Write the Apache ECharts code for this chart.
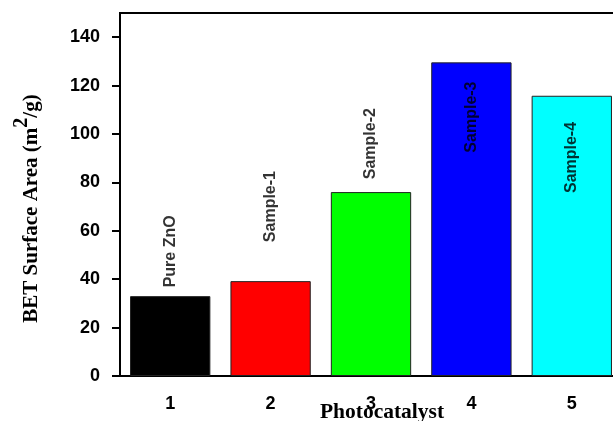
<!DOCTYPE html>
<html>
<head>
<meta charset="utf-8">
<script src="https://cdn.jsdelivr.net/npm/echarts@6/dist/echarts.min.js"></script>
<style>html,body{margin:0;padding:0;background:#fff;}#c{width:613px;height:421px;}</style>
</head>
<body>
<div id="c"></div>
<script>
const categories = ['1', '2', '3', '4', '5'];
const surfaceArea = [33, 39.2, 76, 129.6, 115.8];
const sampleNames = ['Pure ZnO', 'Sample-1', 'Sample-2', 'Sample-3', 'Sample-4'];
const labelCenters = [51.5, 70, 96, 107, 90.3];
const barColors = ['#000000', '#ff0000', '#00ff00', '#0000ff', '#00ffff'];
const yTicks = [0, 20, 40, 60, 80, 100, 120, 140];

const chart = echarts.init(document.getElementById('c'));
chart.setOption({
  animation: false,
  backgroundColor: '#fff',
  grid: { left: 120, right: -9, top: 13, bottom: 45, show: true, borderColor: '#000', borderWidth: 2, containLabel: false, outerBoundsMode: 'none' },
  xAxis: {
    type: 'category',
    data: categories,
    boundaryGap: true,
    name: 'Photocatalyst',
    nameLocation: 'middle',
    nameGap: 25,
    nameMoveOverlap: false,
    nameTextStyle: { fontFamily: 'Liberation Serif', fontWeight: 'bold', fontSize: 21.5, color: '#000', padding: [0, 0, 0, 22], verticalAlign: 'top' },
    axisLine: { lineStyle: { color: '#000', width: 2 } },
    axisTick: { alignWithLabel: true, length: 8, lineStyle: { color: '#000', width: 2 } },
    axisLabel: { margin: 19, fontFamily: 'Liberation Sans', fontWeight: 'bold', fontSize: 18, color: '#000' },
    splitLine: { show: false }
  },
  yAxis: {
    type: 'value',
    min: 0, max: 150, interval: 20,
    name: '{a|BET Surface Area (m}{s|2}{a|/g)}',
    nameLocation: 'middle',
    nameGap: 78,
    nameMoveOverlap: false,
    nameTextStyle: {
      padding: [0, 28, 0, 0],
      rich: {
        a: { fontFamily: 'Liberation Serif', fontWeight: 'bold', fontSize: 21, color: '#000', lineHeight: 30, verticalAlign: 'bottom' },
        s: { fontFamily: 'Liberation Serif', fontWeight: 'bold', fontSize: 20, color: '#000', lineHeight: 30, verticalAlign: 'top' }
      }
    },
    axisLine: { show: true, lineStyle: { color: '#000', width: 2 } },
    axisTick: { show: true, length: 8, customValues: yTicks, lineStyle: { color: '#000', width: 2 } },
    axisLabel: { margin: 20, customValues: yTicks, fontFamily: 'Liberation Sans', fontWeight: 'bold', fontSize: 18, color: '#000' },
    splitLine: { show: false }
  },
  series: [
    {
      type: 'bar',
      barWidth: '80%',
      data: surfaceArea.map((v, i) => ({ value: v, itemStyle: { color: barColors[i], borderColor: '#222', borderWidth: 1 } })),
      z: 2
    },
    {
      type: 'scatter',
      symbolSize: 0,
      data: labelCenters,
      label: {
        show: true,
        position: 'inside',
        rotate: 90,
        formatter: p => sampleNames[p.dataIndex],
        fontFamily: 'Liberation Sans',
        fontWeight: 'bold',
        fontSize: 16,
        color: '#000'
      },
      z: 5
    }
  ]
});
</script>
</body>
</html>
